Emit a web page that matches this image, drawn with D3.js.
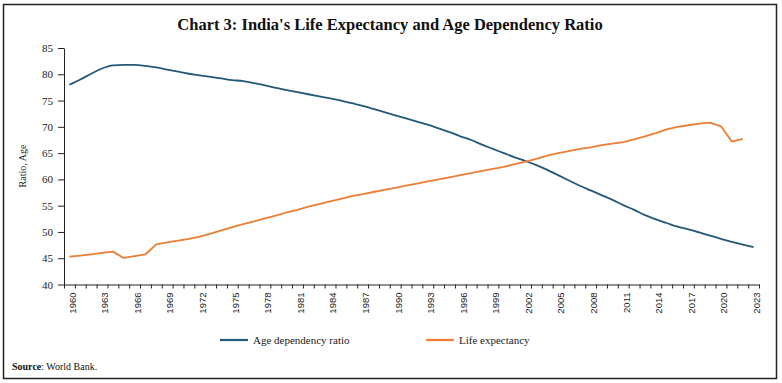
<!DOCTYPE html>
<html>
<head>
<meta charset="utf-8">
<script src="https://cdn.jsdelivr.net/npm/d3@7"></script>
<style>
  html, body { margin: 0; padding: 0; background: #fff; }
  svg { display: block; }
</style>
</head>
<body>
<svg id="chart" width="782" height="383"></svg>
<script>
const years = d3.range(1960, 2024);
const labelYears = d3.range(1960, 2024, 3);
const yTicks = [40, 45, 50, 55, 60, 65, 70, 75, 80, 85];

const ageDependency = [
  78.0, 79.0, 80.1, 81.1, 81.7, 81.8, 81.8, 81.6, 81.3, 80.9,
  80.5, 80.1, 79.8, 79.5, 79.2, 78.9, 78.7, 78.3, 77.9, 77.4,
  77.0, 76.6, 76.2, 75.8, 75.4, 75.0, 74.5, 74.0, 73.4, 72.8,
  72.2, 71.6, 71.0, 70.4, 69.7, 69.0, 68.2, 67.5, 66.6, 65.8,
  65.0, 64.2, 63.5, 62.7, 61.8, 60.8, 59.8, 58.8, 57.9, 57.0,
  56.1, 55.1, 54.2, 53.2, 52.4, 51.7, 51.0, 50.5, 49.9, 49.3,
  48.7, 48.1, 47.6, 47.1
];
const lifeExpectancy = [
  45.3, 45.5, 45.75, 46.0, 46.25, 45.05, 45.4, 45.75, 47.65, 48.0,
  48.35, 48.7, 49.1, 49.7, 50.3, 50.9, 51.5, 52.0, 52.6, 53.1,
  53.7, 54.2, 54.8, 55.3, 55.8, 56.3, 56.8, 57.2, 57.6, 58.0,
  58.4, 58.8, 59.2, 59.6, 60.0, 60.4, 60.8, 61.2, 61.6, 62.0,
  62.4, 62.9, 63.4, 63.9, 64.5, 65.0, 65.4, 65.8, 66.1, 66.5,
  66.8, 67.1, 67.6, 68.2, 68.8, 69.5, 70.0, 70.3, 70.6, 70.8,
  70.1, 67.2, 67.7
];

const series = [
  { name: "Age dependency ratio", values: ageDependency, color: "#22597a", curve: d3.curveMonotoneX },
  { name: "Life expectancy", values: lifeExpectancy, color: "#ed7d31", curve: d3.curveLinear }
];

const svg = d3.select("#chart");
const serif = "'Liberation Serif', 'Times New Roman', serif";
const sans = "'Liberation Sans', Arial, sans-serif";

// outer frame
svg.append("rect")
  .attr("x", 3.5).attr("y", 4.5)
  .attr("width", 773).attr("height", 374)
  .attr("fill", "none").attr("stroke", "#222").attr("stroke-width", 1.5);

// title
svg.append("text")
  .attr("x", 390).attr("y", 30)
  .attr("text-anchor", "middle")
  .attr("font-family", serif)
  .attr("font-weight", "bold")
  .attr("font-size", 16.5)
  .attr("fill", "#111")
  .text("Chart 3: India's Life Expectancy and Age Dependency Ratio");

const x = d3.scaleLinear().domain([1959.5, 2023.5]).range([64, 759]);
const y = d3.scaleLinear().domain([40, 85]).range([284.5, 48]);

// y axis
const yAxis = svg.append("g")
  .attr("transform", "translate(64,0)")
  .call(d3.axisLeft(y).tickValues(yTicks).tickSize(6).tickSizeOuter(0).tickPadding(5));
yAxis.select(".domain").attr("stroke", "#222");
yAxis.selectAll(".tick line").attr("stroke", "#222");
yAxis.selectAll("text")
  .attr("font-family", serif).attr("font-size", 11).attr("fill", "#222");

// x axis ticks at year boundaries
const boundaries = d3.range(1959.5, 2024.5, 1);
const xAxis = svg.append("g")
  .attr("transform", "translate(0,284.5)")
  .call(d3.axisBottom(x).tickValues(boundaries).tickFormat("").tickSize(4).tickSizeOuter(0));
xAxis.select(".domain").attr("stroke", "#222");
xAxis.selectAll(".tick line").attr("stroke", "#222");

// x labels
const xLab = svg.append("g")
  .attr("transform", "translate(2.5,284.5)")
  .call(d3.axisBottom(x).tickValues(labelYears).tickFormat(d3.format("d")).tickSize(0));
xLab.select(".domain").remove();
xLab.selectAll("text")
  .attr("font-family", sans).attr("font-size", 9.5).attr("fill", "#222")
  .attr("text-anchor", "end")
  .attr("transform", "rotate(-90)")
  .attr("x", -8).attr("y", 0).attr("dy", "0.35em");

// y axis title
svg.append("text")
  .attr("transform", "translate(26,166) rotate(-90)")
  .attr("text-anchor", "middle")
  .attr("font-family", serif).attr("font-size", 10).attr("fill", "#222")
  .text("Ratio, Age");

// lines
series.forEach(s => {
  const line = d3.line()
    .curve(s.curve)
    .x((d, i) => x(years[i]))
    .y(d => y(d));
  svg.append("path")
    .datum(s.values)
    .attr("fill", "none")
    .attr("stroke", s.color)
    .attr("stroke-width", 1.8)
    .attr("stroke-linejoin", "round")
    .attr("d", line);
});

// legend
const legendPos = [220, 426];
series.forEach((s, i) => {
  const g = svg.append("g").attr("transform", `translate(${legendPos[i]},340)`);
  g.append("line").attr("x1", 0).attr("x2", 28).attr("y1", 0).attr("y2", 0)
    .attr("stroke", s.color).attr("stroke-width", 2.2);
  g.append("text").attr("x", 33).attr("y", 0).attr("dy", "0.35em")
    .attr("font-family", serif).attr("font-size", 11).attr("fill", "#222")
    .text(s.name);
});

// source
const src = svg.append("text")
  .attr("x", 12).attr("y", 370)
  .attr("font-family", serif).attr("font-size", 10).attr("fill", "#111");
src.append("tspan").attr("font-weight", "bold").text("Source");
src.append("tspan").text(": World Bank.");
</script>
</body>
</html>
